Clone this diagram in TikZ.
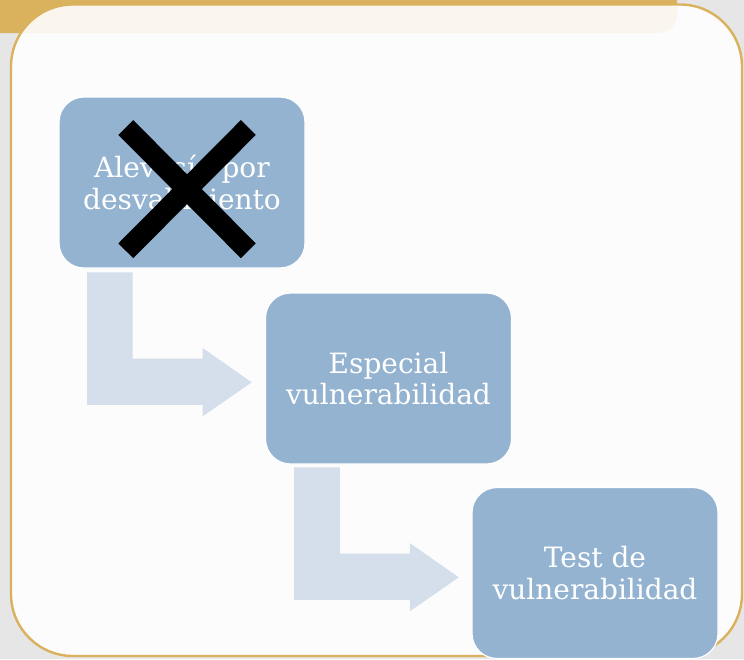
\documentclass[tikz,border=0pt]{standalone}
\usepackage{fontspec}
\setmainfont{DejaVu Serif}
\usetikzlibrary{calc}
\definecolor{bggray}{HTML}{E6E6E6}
\definecolor{goldc}{HTML}{DAB15D}
\definecolor{boxblue}{HTML}{94B3D1}
\definecolor{arrowblue}{HTML}{D4DFEB}
\tikzset{
  stepbox/.style={rectangle, rounded corners=25pt, minimum width=246pt, minimum height=171pt,
    fill=boxblue, draw=white, line width=1.2pt, text=white, align=center, inner sep=0pt,
    font=\fontsize{28}{31.6}\selectfont},
  bentarrow/.style={fill=arrowblue, draw=none},
  crossline/.style={line width=21pt, draw=black, line cap=butt}
}
\newcommand{\mybent}[1]{%
  \path[bentarrow] (#1) -- ++(45.6,0) -- ++(0,86.3) -- ++(70,0) -- ++(0,-10.5)
    -- ++(49,34.2) -- ++(-49,34) -- ++(0,-11.4) -- ++(-115.6,0) -- cycle;}
\begin{document}
\begin{tikzpicture}[x=1pt,y=-1pt]
\useasboundingbox (0,0) rectangle (744,659);
\fill[bggray] (0,0) rectangle (744,659);
% gold band
\fill[goldc] (0,0) -- (677,0) -- (677,15) arc[start angle=0, end angle=-90, radius=18pt] -- (0,33) -- cycle;
% main panel
\draw[goldc, line width=2.4pt, fill=white, fill opacity=0.89, rounded corners=62pt] (11,4.5) rectangle (742,656);
% boxes
\node[stepbox] (b1) at (182,182.5) {Alevosía por\\desvalimiento};
\node[stepbox] (b2) at (388.5,378.5) {Especial\\vulnerabilidad};
\node[stepbox] (b3) at (595,573) {Test de\\vulnerabilidad};
% bent arrows
\coordinate (a1) at ($(b1.south west)+(28.7,3.7)$);
\coordinate (a2) at ($(b2.south west)+(29.3,2.7)$);
\mybent{a1}
\mybent{a2}
% cross
\coordinate (x1) at ($(b1.center)+(-56.2,-55)$);
\coordinate (x2) at ($(b1.center)+(66.3,68.3)$);
\coordinate (x3) at ($(b1.center)+(66.3,-55)$);
\coordinate (x4) at ($(b1.center)+(-56.2,68.3)$);
\draw[crossline] (x1) -- (x2);
\draw[crossline] (x3) -- (x4);
\end{tikzpicture}
\end{document}
